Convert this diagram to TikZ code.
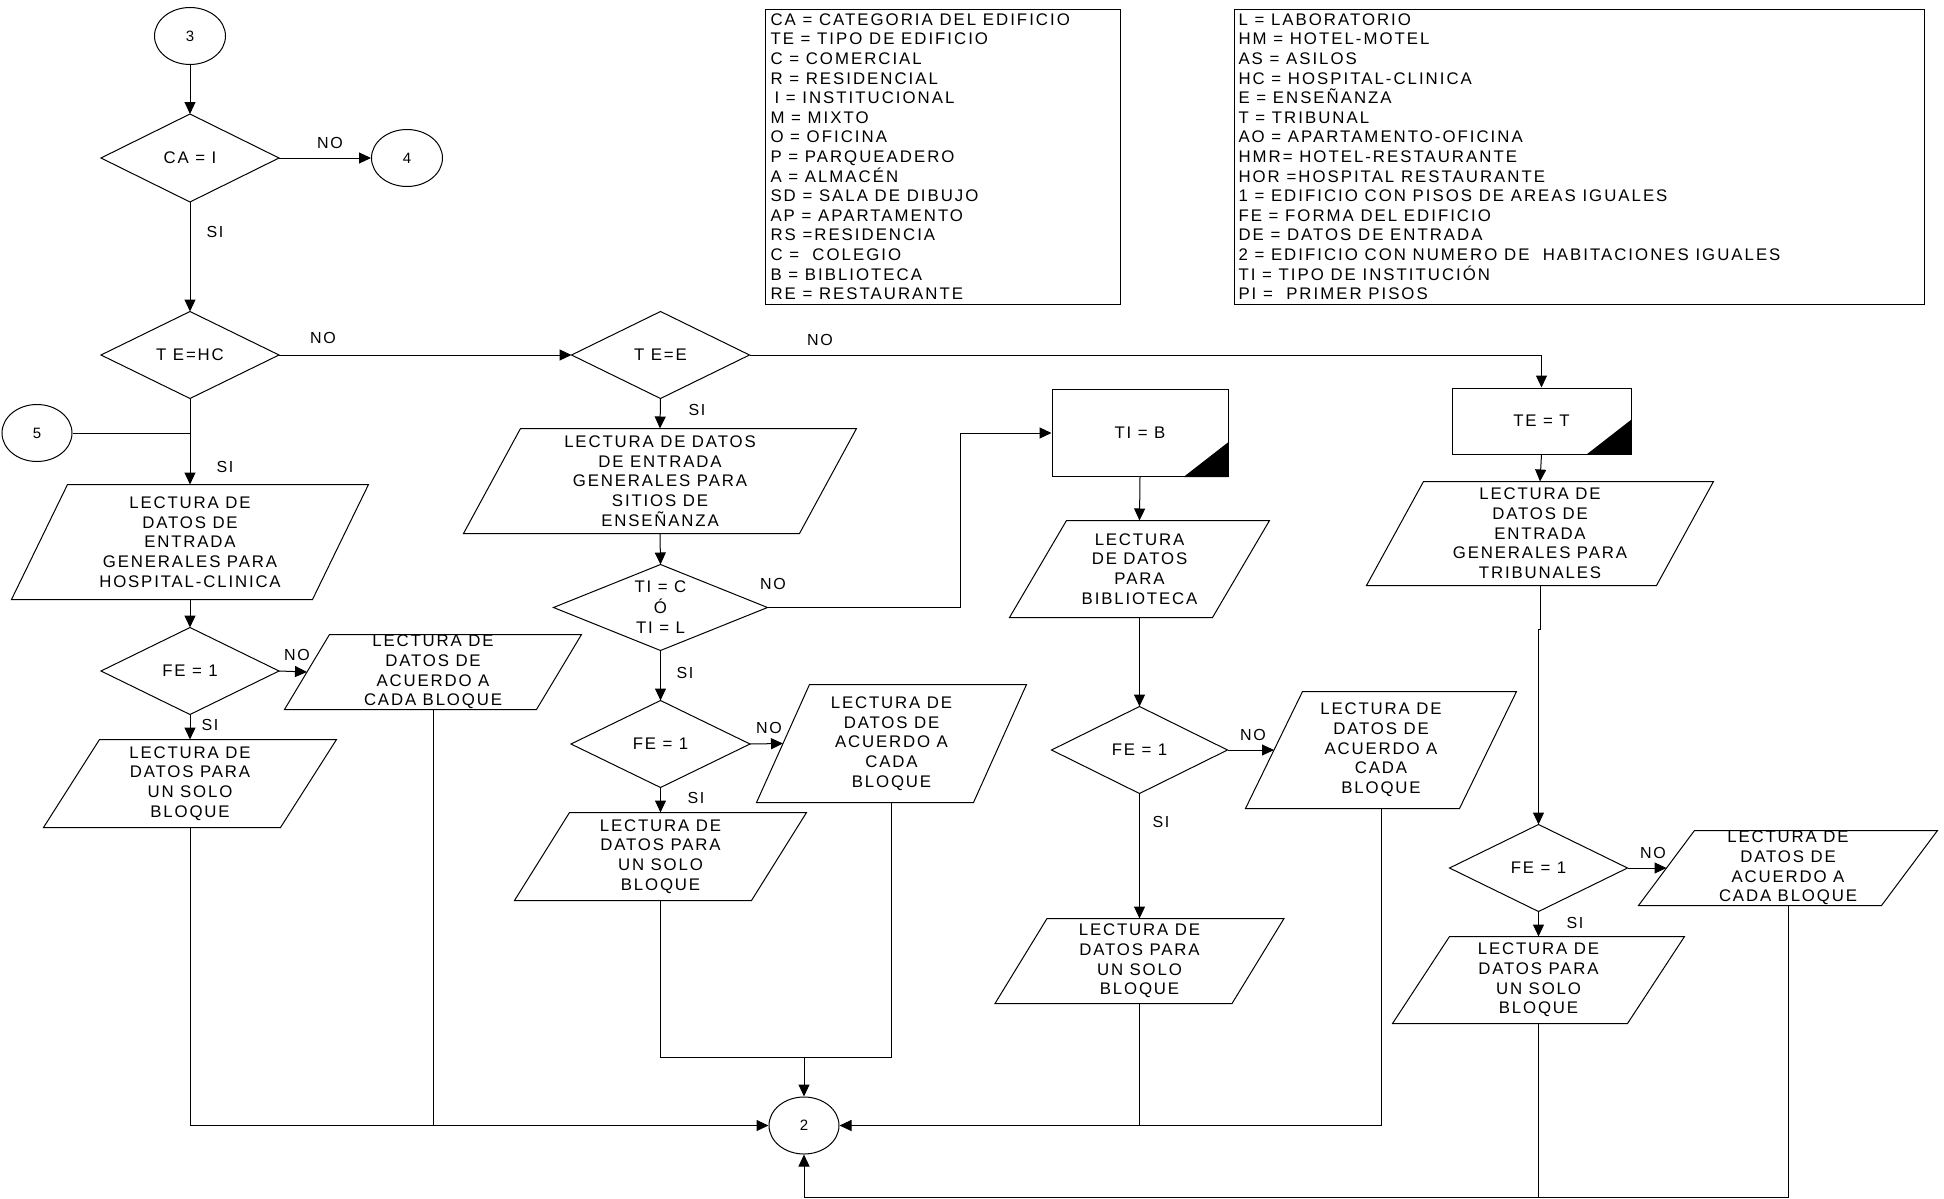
\documentclass[tikz,border=0pt]{standalone}
\usepackage{fontspec}
\setmainfont{Liberation Sans}
\newfontfamily\spacedfont[LetterSpace=11]{Liberation Sans}
\newfontfamily\legendfont[LetterSpace=12]{Liberation Sans}
\usetikzlibrary{arrows.meta,shapes.geometric}

% decision: name, position, width, height, text
\newcommand\flowdecision[5]{%
  \node[txt, minimum width=#3pt, minimum height=#4pt] (#1) at (#2) {#5};
  \draw (#1.north) -- (#1.east) -- (#1.south) -- (#1.west) -- cycle;}
% input/output: name, position, full width, height, slant, text
\newcommand\flowio[6]{%
  \node[txt, minimum width=#3pt, minimum height=#4pt] (#1) at (#2) {#6};
  \draw (#1.south west) -- ([xshift=-#5pt]#1.south east) -- (#1.north east)
        -- ([xshift=#5pt]#1.north west) -- cycle;}

\begin{document}
\begin{tikzpicture}[x=1pt,y=-1pt,line width=1pt,
  flow/.style={-{Triangle[length=12pt,width=11pt]}},
  txt/.style={font=\spacedfont\fontsize{16.8}{19.7}\selectfont, align=center, inner sep=0pt},
  lbl/.style={font=\spacedfont\fontsize{16}{19}\selectfont, inner sep=0pt},
  conn/.style={ellipse, draw, minimum width=71pt, minimum height=57pt, inner sep=0pt,
               font=\fontsize{15}{18}\selectfont},
  procbox/.style={draw, txt},
  legendbox/.style={draw, anchor=north west, inner sep=0pt},
  legendtext/.style={font=\legendfont\fontsize{16.8}{19.6}\selectfont, align=left,
                     anchor=north west, inner sep=0pt}]
\useasboundingbox (0,0) rectangle (1944,1199);

% ---------- legends ----------
\node[legendbox, minimum width=355pt, minimum height=295pt] (leg1) at (765,9) {};
\node[legendtext] (leg1txt) at (770,13) {CA = CATEGORIA DEL EDIFICIO\\
TE = TIPO DE EDIFICIO\\C = COMERCIAL\\R = RESIDENCIAL\\\hspace*{4pt}I = INSTITUCIONAL\\
M = MIXTO\\O = OFICINA\\P = PARQUEADERO\\A = ALMACÉN\\SD = SALA DE DIBUJO\\
AP = APARTAMENTO\\RS =RESIDENCIA\\C =\ \ COLEGIO\\B = BIBLIOTECA\\RE = RESTAURANTE};

\node[legendbox, minimum width=690pt, minimum height=295pt] (leg2) at (1234,9) {};
\node[legendtext] (leg2txt) at (1238,13) {L = LABORATORIO\\HM = HOTEL-MOTEL\\AS = ASILOS\\
HC = HOSPITAL-CLINICA\\E = ENSEÑANZA\\T = TRIBUNAL\\AO = APARTAMENTO-OFICINA\\
HMR= HOTEL-RESTAURANTE\\HOR =HOSPITAL RESTAURANTE\\1 = EDIFICIO CON PISOS DE AREAS IGUALES\\
FE = FORMA DEL EDIFICIO\\DE = DATOS DE ENTRADA\\2 = EDIFICIO CON NUMERO DE\ \ HABITACIONES IGUALES\\
TI = TIPO DE INSTITUCIÓN\\PI =\ \ PRIMER PISOS};

% ---------- connectors (circles) ----------
\node[conn] (c3) at (190,36) {3};
\node[conn] (c4) at (407,158) {4};
\node[conn, minimum width=70pt] (c5) at (37,433) {5};
\node[conn, minimum width=70pt] (c2) at (804,1125.5) {2};

% ---------- column 1 ----------
\flowdecision{d1}{190,158}{177}{87}{CA = I}
\flowdecision{d2}{190,355}{177}{86}{T E=HC}
\flowio{p1}{190,542}{356}{114}{56}{LECTURA DE\\DATOS DE\\ENTRADA\\GENERALES PARA\\HOSPITAL-CLINICA}
\flowdecision{d4}{190,671}{177}{86}{FE = 1}
\flowio{p2}{433,672}{296}{74}{45}{LECTURA DE\\DATOS DE\\ACUERDO A\\CADA BLOQUE}
\flowio{p3}{190,783.5}{292}{87}{56}{LECTURA DE\\DATOS PARA\\UN SOLO\\BLOQUE}

% ---------- column 2 ----------
\flowdecision{d3}{660.5,355}{177}{86}{T E=E}
\flowio{p4}{660,481}{392}{104}{57}{LECTURA DE DATOS\\DE ENTRADA\\GENERALES PARA\\SITIOS DE\\ENSEÑANZA}
\flowdecision{d5}{660.5,607.5}{213}{85}{TI = C\\[0.8pt]Ó\\[0.8pt]TI = L}
\flowdecision{d6}{660.5,744}{178}{86}{FE = 1}
\flowio{p5}{891.5,743.5}{269}{117}{53}{LECTURA DE\\DATOS DE\\ACUERDO A\\CADA\\BLOQUE}
\flowio{p6}{660.5,856.5}{291}{87}{55}{LECTURA DE\\DATOS PARA\\UN SOLO\\BLOQUE}

% ---------- column 3 ----------
\node[procbox, minimum width=176pt, minimum height=87pt] (bTIB) at (1140,433) {TI = B};
\fill (bTIB.south east) -- ++(-45,0) -- ++(45,-35) -- cycle;
\flowio{p7}{1139.5,569}{259}{96}{57}{LECTURA\\DE DATOS\\PARA\\BIBLIOTECA}
\flowdecision{d7}{1139.5,750}{175}{86}{FE = 1}
\flowio{p8}{1381,750}{270}{116}{57}{LECTURA DE\\DATOS DE\\ACUERDO A\\CADA\\BLOQUE}
\flowio{p10}{1139.5,961}{288}{84}{52}{LECTURA DE\\DATOS PARA\\UN SOLO\\BLOQUE}

% ---------- column 4 ----------
\node[procbox, minimum width=179pt, minimum height=66pt] (bTET) at (1541.5,421) {TE = T};
\fill (bTET.south east) -- ++(-45,0) -- ++(45,-35) -- cycle;
\flowio{p9}{1540,533.5}{346}{103}{57}{LECTURA DE\\DATOS DE\\ENTRADA\\GENERALES PARA\\TRIBUNALES}
\flowdecision{d8}{1538.5,868}{177}{86}{FE = 1}
\flowio{p11}{1788,868}{298}{74}{56}{LECTURA DE\\DATOS DE\\ACUERDO A\\CADA BLOQUE}
\flowio{p12}{1538.5,980}{291}{86}{57}{LECTURA DE\\DATOS PARA\\UN SOLO\\BLOQUE}

% ---------- branch labels ----------
\node[lbl] (n1) at (330,143) {NO};
\node[lbl] (s1) at (215,232) {SI};
\node[lbl] (n2) at (323,338) {NO};
\node[lbl] (s2) at (225,467) {SI};
\node[lbl] (n3) at (297,655) {NO};
\node[lbl] (s3) at (210,725) {SI};
\node[lbl] (s4) at (697,410) {SI};
\node[lbl] (n4) at (820,340) {NO};
\node[lbl] (n5) at (773,584) {NO};
\node[lbl] (s5) at (685,673) {SI};
\node[lbl] (n6) at (769,728) {NO};
\node[lbl] (s6) at (696,798) {SI};
\node[lbl] (n7) at (1253,735) {NO};
\node[lbl] (s7) at (1161,822) {SI};
\node[lbl] (n8) at (1653,853) {NO};
\node[lbl] (s8) at (1575,923) {SI};

% ---------- junction points ----------
\coordinate (k1) at (960,433);
\coordinate (j2) at (804,1057);
\coordinate (j3) at (804,1197);

% ---------- flow lines ----------
\draw[flow] (c3.south) -- (d1.north);
\draw[flow] (d1.east) -- (c4.west);
\draw[flow] (d1.south) -- (d2.north);
\draw[flow] (d2.east) -- (d3.west);
\draw[flow] (d2.south) -- (p1.north);
\draw (c5.east) -- (c5.east -| d2.south);
\draw[flow] (p1.south) -- (d4.north);
\draw[flow] (d4.east) -- ([xshift=22.5pt]p2.west);
\draw[flow] (d4.south) -- (p3.north);
\draw[flow] (p3.south) -- (p3.south |- c2.west) -- (c2.west);
\draw (p2.south) -- (p2.south |- c2.west);

\draw[flow] (d3.south) -- (p4.north);
\draw[flow] (d3.east) -- (d3.east -| bTET.north) -- (bTET.north);
\draw[flow] (p4.south) -- (d5.north);
\draw[flow] (d5.east) -- (d5.east -| k1) -- (k1) -- (bTIB.west);
\draw[flow] (d5.south) -- (d6.north);
\draw[flow] (d6.east) -- ([xshift=26.5pt]p5.west);
\draw[flow] (d6.south) -- (p6.north);
\draw (p6.south) -- (p6.south |- j2) -- (p5.south |- j2) -- (p5.south);
\draw[flow] (j2) -- (c2.north);

\draw[flow] (bTIB.south) -- (p7.north);
\draw[flow] (p7.south) -- (d7.north);
\draw[flow] (d7.east) -- ([xshift=28.5pt]p8.west);
\draw[flow] (d7.south) -- (p10.north);
\draw (p10.south) -- (p10.south |- c2.east);
\draw[flow] (p8.south) -- (p8.south |- c2.east) -- (c2.east);

\draw[flow] (bTET.south) -- (p9.north);
\draw[flow] (p9.south) -- ++(0,44) -- ++(-1.5,0) -- (d8.north);
\draw[flow] (d8.east) -- ([xshift=28pt]p11.west);
\draw[flow] (d8.south) -- (p12.north);
\draw (p12.south) -- (p12.south |- j3);
\draw[flow] (p11.south) -- (p11.south |- j3) -- (j3) -- (c2.south);
\end{tikzpicture}
\end{document}
